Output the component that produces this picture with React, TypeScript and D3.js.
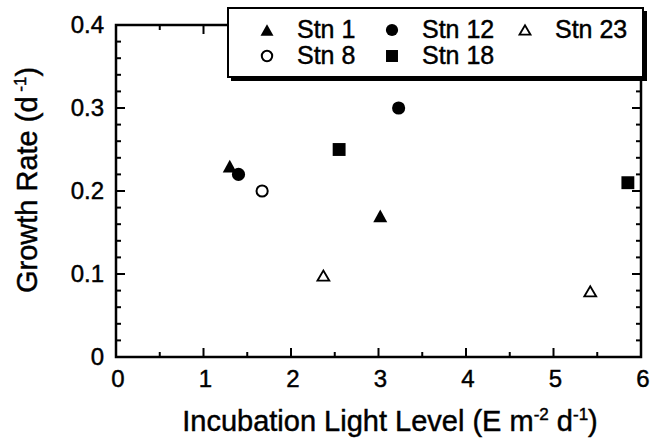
import React from "react";
import * as d3 from "d3";

const stations = ["Stn 1", "Stn 12", "Stn 23", "Stn 8", "Stn 18"];
const symbols = ["triangle", "circle", "triangle-open", "circle-open", "square"];
const stn1X = [1.3, 3.02];
const stn1Y = [0.23, 0.17];
const stn12X = [1.4, 3.23];
const stn12Y = [0.22, 0.30];
const stn23X = [2.37, 5.42];
const stn23Y = [0.098, 0.079];
const stn8X = [1.67];
const stn8Y = [0.2];
const stn18X = [2.55, 5.85];
const stn18Y = [0.25, 0.21];
const xTicks = [0, 1, 2, 3, 4, 5, 6];
const yTicks = [0, 0.1, 0.2, 0.3, 0.4];
const yTickLabels = ["0", "0.1", "0.2", "0.3", "0.4"];

const seriesX = [stn1X, stn12X, stn23X, stn8X, stn18X];
const seriesY = [stn1Y, stn12Y, stn23Y, stn8Y, stn18Y];

const W = 651, H = 439;
const L = 116, R = 641, T = 25, B = 357;
const FONT = "'Liberation Sans', Arial, Helvetica, sans-serif";

function Marker({ kind, cx, cy, s }: { kind: string; cx: number; cy: number; s: number }) {
  if (kind === "circle") return <circle cx={cx} cy={cy} r={s * 0.47} fill="#000" />;
  if (kind === "circle-open") return <circle cx={cx} cy={cy} r={s * 0.4} fill="#fff" stroke="#000" strokeWidth={2} />;
  if (kind === "square") return <rect x={cx - s * 0.46} y={cy - s * 0.46} width={s * 0.92} height={s * 0.92} fill="#000" />;
  const h = s * 0.9;
  const w = s;
  const pts = `${cx - w / 2},${cy + h / 2} ${cx + w / 2},${cy + h / 2} ${cx},${cy - h / 2}`;
  if (kind === "triangle") return <polygon points={pts} fill="#000" />;
  const w2 = w * 0.85, h2 = h * 0.8;
  const pts2 = `${cx - w2 / 2},${cy + h2 / 2} ${cx + w2 / 2},${cy + h2 / 2} ${cx},${cy - h2 / 2}`;
  return <polygon points={pts2} fill="#fff" stroke="#000" strokeWidth={1.8} strokeLinejoin="miter" />;
}

export default function App() {
  const x = d3.scaleLinear().domain([0, 6]).range([L, R]);
  const y = d3.scaleLinear().domain([0, 0.4]).range([B, T]);
  const xMinor = d3.range(0, 6.001, 0.5).filter((v) => Math.abs(v - Math.round(v)) > 0.01);
  const yMinor = d3.range(0, 0.4001, 0.02).filter((v) => Math.abs(v * 10 - Math.round(v * 10)) > 0.01);
  const MJ = 9, MN = 5;

  const legendItems = [
    { i: 0, lx: 267, ly: 30 },
    { i: 1, lx: 392, ly: 30 },
    { i: 2, lx: 525, ly: 30 },
    { i: 3, lx: 267, ly: 56 },
    { i: 4, lx: 392, ly: 56 },
  ];
  const txt = { fill: "#000", stroke: "#000", strokeWidth: 0.45 };

  return (
    <svg width={W} height={H} style={{ position: "absolute", left: 0, top: 0, background: "#fff" }} fontFamily={FONT}>
      <rect x={0} y={0} width={W} height={H} fill="#fff" />
      {/* ticks */}
      <g stroke="#000" strokeWidth={2}>
        {xTicks.map((v) => (
          <g key={"xt" + v}>
            <line x1={x(v)} x2={x(v)} y1={B} y2={B - MJ} />
            <line x1={x(v)} x2={x(v)} y1={T} y2={T + MJ} />
          </g>
        ))}
        {xMinor.map((v) => (
          <g key={"xm" + v}>
            <line x1={x(v)} x2={x(v)} y1={B} y2={B - MN} />
            <line x1={x(v)} x2={x(v)} y1={T} y2={T + MN} />
          </g>
        ))}
        {yTicks.map((v) => (
          <g key={"yt" + v}>
            <line x1={L} x2={L + MJ} y1={y(v)} y2={y(v)} />
            <line x1={R} x2={R - MJ} y1={y(v)} y2={y(v)} />
          </g>
        ))}
        {yMinor.map((v) => (
          <g key={"ym" + v}>
            <line x1={L} x2={L + MN} y1={y(v)} y2={y(v)} />
            <line x1={R} x2={R - MN} y1={y(v)} y2={y(v)} />
          </g>
        ))}
      </g>
      <rect x={L} y={T} width={R - L} height={B - T} fill="none" stroke="#000" strokeWidth={2.5} />
      {/* tick labels */}
      <g fontSize={24} {...txt}>
        {xTicks.map((v) => (
          <text key={"xl" + v} x={x(v) + 2} y={B + 30} textAnchor="middle">{v}</text>
        ))}
        {yTicks.map((v, i) => (
          <text key={"yl" + v} x={L - 12} y={y(v) + 8} textAnchor="end">{yTickLabels[i]}</text>
        ))}
      </g>
      {/* axis titles */}
      <text x={390} y={431} textAnchor="middle" fontSize={29} {...txt}>
        Incubation Light Level (E m<tspan fontSize={17} dy={-11}>-2</tspan><tspan dy={11}> d</tspan><tspan fontSize={17} dy={-11}>-1</tspan><tspan dy={11}>)</tspan>
      </text>
      <text transform={`translate(37,180) rotate(-90)`} textAnchor="middle" fontSize={29} {...txt}>
        Growth Rate (d<tspan fontSize={17} dy={-11}> -1</tspan><tspan dy={11}>)</tspan>
      </text>
      {/* data */}
      {seriesX.map((xs, si) =>
        xs.map((xv, j) => (
          <Marker key={si + "-" + j} kind={symbols[si]} cx={x(xv)} cy={y(seriesY[si][j])} s={14} />
        ))
      )}
      {/* legend */}
      <rect x={231} y={11} width={416} height={70} fill="#000" />
      <rect x={228} y={8} width={415} height={69} fill="#fff" stroke="#000" strokeWidth={2} />
      {legendItems.map((it) => (
        <g key={"lg" + it.i}>
          <Marker kind={symbols[it.i]} cx={it.lx} cy={it.ly} s={13} />
          <text x={it.lx + 30} y={it.ly + 8} fontSize={25} {...txt}>{stations[it.i]}</text>
        </g>
      ))}
    </svg>
  );
}
